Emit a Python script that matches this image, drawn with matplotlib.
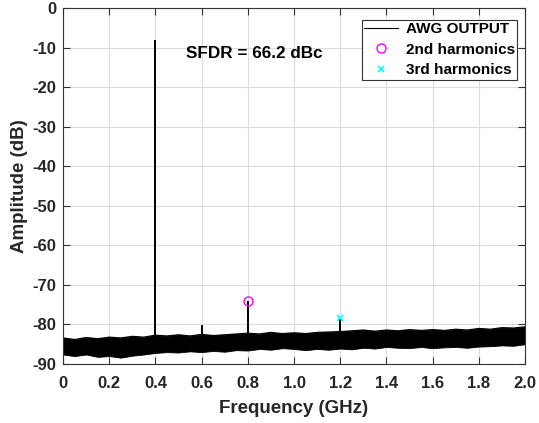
import matplotlib
matplotlib.use("Agg")
import matplotlib.pyplot as plt
import numpy as np

plt.rcParams['font.family'] = ['Liberation Sans', 'DejaVu Sans']
plt.rcParams['font.weight'] = 'bold'
plt.rcParams['axes.unicode_minus'] = False

# noise floor envelope (GHz, dB), 0.05 GHz steps
floor_freq = [round(0.05 * i, 2) for i in range(41)]
floor_top = [-83.4, -83.8, -83.3, -83.6, -83.2, -83.4, -83.0, -83.2, -82.7, -82.9,
             -82.6, -82.9, -82.5, -82.8, -82.6, -82.4, -82.2, -82.4, -82.0, -82.3,
             -82.1, -82.3, -82.0, -81.9, -81.8, -81.6, -81.4, -81.7, -81.4, -81.6,
             -81.3, -81.5, -81.3, -81.5, -81.2, -81.4, -81.0, -81.2, -80.8, -80.9,
             -80.6]
floor_bot = [-87.6, -88.0, -87.6, -88.2, -88.0, -88.4, -87.9, -87.6, -87.2, -87.0,
             -87.1, -86.8, -87.0, -86.7, -86.9, -86.5, -86.6, -86.2, -86.4, -86.0,
             -86.2, -86.5, -86.2, -86.4, -86.1, -86.3, -85.9, -86.1, -85.7, -85.9,
             -86.0, -85.7, -86.0, -85.8, -85.7, -85.9, -85.6, -85.5, -85.3, -85.4,
             -85.0]

# spectral lines (GHz, dB)
spike_freq = [0.0, 0.4, 0.6, 0.8, 1.2]
spike_db = [-81.0, -8.0, -80.1, -74.0, -78.4]

h2_freq, h2_db = [0.8], [-74.0]
h3_freq, h3_db = [1.2], [-78.4]

fig = plt.figure(figsize=(5.39, 4.23), dpi=100)
ax = fig.add_axes([0.1169, 0.1395, 0.8572, 0.8416])

ax.fill_between(floor_freq, floor_bot, floor_top, color='k', lw=0.6, edgecolor='k')
ax.plot(floor_freq, floor_top, color='k', lw=0.8, label='AWG OUTPUT')
base = np.interp(spike_freq, floor_freq, floor_top)
ax.vlines(spike_freq, base, spike_db, color='k', lw=1.4)

ax.plot(h2_freq, h2_db, 'o', mfc='none', mec='#ff00ff', ms=6.5, mew=1.0, label='2nd harmonics')
ax.plot(h3_freq, h3_db, 'x', color='#00ffff', ms=4, mew=1.2, label='3rd harmonics')

ax.text(0.532, -11.6, 'SFDR = 66.2 dBc', fontsize=12.3, fontweight='bold', va='center')

ax.set_xlim(0, 2.0)
ax.set_ylim(-90, 0)
ax.set_xticks(np.arange(0, 2.01, 0.2))
ax.set_xticklabels(['0'] + ['%.1f' % v for v in np.arange(0.2, 2.01, 0.2)])
ax.set_yticks(np.arange(-90, 1, 10))
ax.grid(True, color='#dcdcdc', lw=0.8)
ax.set_axisbelow(True)
ax.tick_params(direction='in', top=True, right=True, labelsize=12, length=5,
               color='#333333', labelcolor='#262626')
ax.tick_params(axis='x', pad=9)
ax.tick_params(axis='y', pad=5)
for s in ax.spines.values():
    s.set_color('#333333')
    s.set_linewidth(0.8)
ax.set_xlabel('Frequency (GHz)', fontsize=13.5, fontweight='bold', color='#262626', labelpad=6)
ax.set_ylabel('Amplitude (dB)', fontsize=13.5, fontweight='bold', color='#262626', labelpad=3)

leg = ax.legend(loc='upper right', bbox_to_anchor=(0.9827, 0.966), fontsize=11,
                fancybox=False, framealpha=1, edgecolor='#333333', borderaxespad=0,
                handlelength=2.2, borderpad=0.15, labelspacing=0.42, handletextpad=0.5)
leg.get_frame().set_linewidth(0.8)

fig.savefig('out.png', dpi=100)
